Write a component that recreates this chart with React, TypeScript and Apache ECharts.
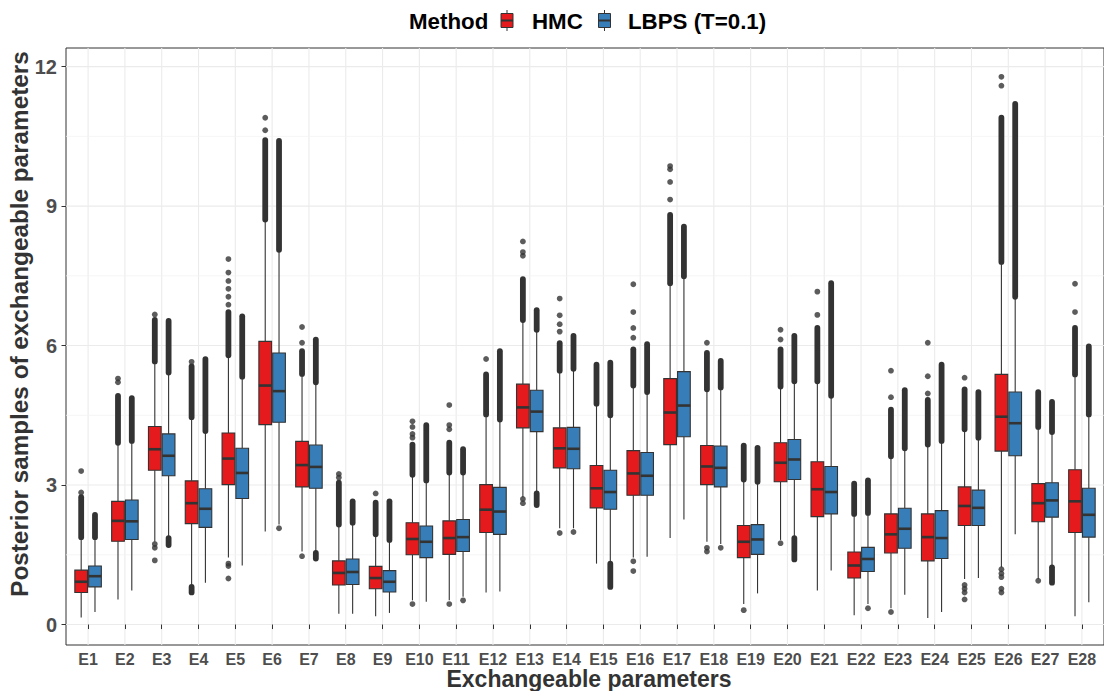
import React, { useEffect, useRef } from "react";
import * as echarts from "echarts";

const categories = ["E1","E2","E3","E4","E5","E6","E7","E8","E9","E10","E11","E12","E13","E14","E15","E16","E17","E18","E19","E20","E21","E22","E23","E24","E25","E26","E27","E28"];
const methods = ["HMC", "LBPS (T=0.1)"];
const yTicks = [0, 3, 6, 9, 12];
const yMinorTicks = [1.5, 4.5, 7.5, 10.5];

// HMC box statistics
const hmcLow = [0.15,0.54,1.78,0.81,1.44,2.00,1.57,0.23,0.18,0.52,0.52,0.69,2.74,2.07,1.31,1.44,1.86,1.78,0.44,1.82,0.73,0.20,0.35,0.14,0.98,1.23,0.98,0.18];
const hmcQ1 = [0.69,1.79,3.32,2.17,3.01,4.30,2.96,0.85,0.77,1.50,1.51,1.98,4.23,3.37,2.51,2.78,3.87,3.01,1.44,3.07,2.32,1.00,1.54,1.37,2.13,3.73,2.21,1.98];
const hmcMed = [0.92,2.23,3.77,2.61,3.57,5.14,3.43,1.11,1.00,1.84,1.86,2.47,4.67,3.79,2.93,3.25,4.56,3.40,1.78,3.48,2.91,1.27,1.94,1.88,2.55,4.47,2.61,2.65];
const hmcQ3 = [1.17,2.65,4.26,3.09,4.12,6.09,3.94,1.37,1.25,2.19,2.23,3.01,5.17,4.23,3.42,3.74,5.29,3.85,2.13,3.91,3.50,1.56,2.38,2.38,2.96,5.38,3.03,3.33];
const hmcHigh = [1.88,3.91,5.66,4.46,5.79,8.71,5.39,2.15,1.94,3.22,3.27,4.52,6.55,5.46,4.75,5.14,7.34,5.06,3.12,5.12,5.23,2.38,3.62,3.87,4.20,7.80,4.25,5.38];
// dense runs of outliers (from whisker end to these values)
const hmcDenseTop = [2.74,4.92,6.55,5.55,6.72,10.42,5.88,3.05,2.62,3.87,3.91,5.38,7.43,6.05,5.59,5.92,8.81,5.84,3.85,5.92,6.38,3.03,4.62,4.83,5.06,10.90,5.00,6.38];
const hmcDenseBottom: (number | null)[] = [null,null,null,0.69,null,null,null,null,null,null,null,null,null,null,null,null,null,null,null,null,null,null,null,null,null,null,null,null];
// isolated outliers
const hmcSparse: number[][] = [
  [2.84,3.30],[5.21,5.29],[6.67,1.73,1.65,1.38],[5.65],[6.88,7.05,7.22,7.39,7.57,7.86,1.31,1.26,0.99],
  [10.63,10.90],[6.06,6.40,1.47],[3.16,3.24],[2.82],[4.02,4.10,4.25,4.37,0.44],
  [4.20,4.29,4.72,0.44],[5.71],[7.93,8.01,8.24,2.70,2.61],[6.30,6.46,6.65,7.01,1.97],[],
  [6.17,6.38,6.72,7.32,1.36,1.15],[9.14,9.52,9.79,9.86],[6.06,1.65,1.57],[0.31],[6.13,6.34,1.75],
  [6.66,7.16],[],[4.89,5.46,0.27],[4.97,5.34,6.06],[5.31,0.85,0.77,0.69,0.54],
  [11.59,11.78,1.19,1.10,1.02,0.77,0.69],[0.94],[6.72,7.33]
];

// LBPS box statistics
const lbpsLow = [0.27,0.73,1.86,0.90,1.27,2.15,1.54,0.23,0.25,0.49,0.60,0.71,2.82,2.07,1.31,1.46,2.26,1.73,0.67,1.86,1.16,0.44,0.64,0.27,1.00,1.94,1.23,0.48];
const lbpsQ1 = [0.81,1.83,3.20,2.09,2.71,4.35,2.93,0.86,0.70,1.44,1.57,1.94,4.15,3.35,2.48,2.78,4.04,2.96,1.51,3.12,2.38,1.14,1.64,1.42,2.13,3.63,2.31,1.88];
const lbpsMed = [1.04,2.22,3.63,2.49,3.26,5.02,3.39,1.13,0.92,1.78,1.88,2.43,4.58,3.78,2.85,3.20,4.71,3.37,1.83,3.55,2.85,1.41,2.06,1.86,2.51,4.33,2.67,2.36];
const lbpsQ3 = [1.26,2.68,4.10,2.92,3.79,5.84,3.86,1.41,1.16,2.12,2.26,2.95,5.04,4.24,3.32,3.70,5.44,3.84,2.15,3.98,3.40,1.66,2.50,2.45,2.89,5.00,3.05,2.93];
const lbpsHigh = [1.88,3.95,5.42,4.16,5.33,8.06,5.21,2.19,1.82,3.10,3.27,4.41,6.34,5.50,4.50,5.00,7.49,5.10,3.07,5.23,4.92,2.40,3.79,3.95,4.02,7.05,4.14,4.52];
const lbpsDenseTop = [2.36,4.87,6.53,5.71,6.63,10.40,6.13,2.65,2.65,4.29,3.77,5.88,6.76,6.21,5.63,6.03,8.56,5.67,3.80,6.21,7.34,3.10,5.04,5.59,5.00,11.20,4.79,5.98];
const lbpsDenseBottom: (number | null)[] = [null,null,1.71,null,null,null,1.42,null,null,null,null,null,2.57,null,0.81,null,null,null,null,1.40,null,null,null,null,null,null,0.90,null];
const lbpsSparse: number[][] = [
  [],[],[],[],[],[2.07],[],[],[],[],[0.52],[],[],[1.99],[],[],[],[1.65],[],[],[],[0.35],[],[],[],[],[],[]
];

const FONT = "'Liberation Sans', Arial, Helvetica, sans-serif";
const RED = "#E41A1C";
const BLUE = "#377EB8";
const DARK = "#333333";
const OFFSET = 0.1875;
const BOX_W = 0.345;

function boxData(low: number[], q1: number[], med: number[], q3: number[], high: number[]) {
  return categories.map((_, i) => [i + 1, low[i], q1[i], med[i], q3[i], high[i]]);
}
function denseData(high: number[], top: number[], low: number[], bottom: (number | null)[]) {
  const out: number[][] = [];
  categories.forEach((_, i) => {
    out.push([i + 1, high[i], top[i]]);
    if (bottom[i] != null) out.push([i + 1, bottom[i] as number, low[i]]);
  });
  return out;
}
function sparseData(sp: number[][], off: number) {
  const out: number[][] = [];
  sp.forEach((arr, i) => arr.forEach((v) => out.push([i + 1 + off, v])));
  return out;
}

function boxRender(off: number, fill: string) {
  return (params: any, api: any) => {
    const x = api.value(0) + off;
    const cx = api.coord([x, 0])[0];
    const yLow = api.coord([x, api.value(1)])[1];
    const yQ1 = api.coord([x, api.value(2)])[1];
    const yMed = api.coord([x, api.value(3)])[1];
    const yQ3 = api.coord([x, api.value(4)])[1];
    const yHigh = api.coord([x, api.value(5)])[1];
    const hw = api.size([BOX_W, 0])[0] / 2;
    const ls = { stroke: DARK, lineWidth: 1.1 };
    return {
      type: "group",
      children: [
        { type: "line", shape: { x1: cx, y1: yHigh, x2: cx, y2: yQ3 }, style: ls },
        { type: "line", shape: { x1: cx, y1: yQ1, x2: cx, y2: yLow }, style: ls },
        { type: "rect", shape: { x: cx - hw, y: yQ3, width: 2 * hw, height: yQ1 - yQ3 }, style: { fill, stroke: DARK, lineWidth: 1.1 } },
        { type: "line", shape: { x1: cx - hw, y1: yMed, x2: cx + hw, y2: yMed }, style: { stroke: DARK, lineWidth: 2.6 } },
      ],
    };
  };
}
function denseRender(off: number) {
  return (params: any, api: any) => {
    const x = api.value(0) + off;
    const p1 = api.coord([x, api.value(1)]);
    const p2 = api.coord([x, api.value(2)]);
    return {
      type: "line",
      shape: { x1: p1[0], y1: p1[1], x2: p2[0], y2: p2[1] },
      style: { stroke: DARK, lineWidth: 5.8, lineCap: "round" },
    };
  };
}

export default function App() {
  const ref = useRef<HTMLDivElement>(null);
  useEffect(() => {
    if (!ref.current) return;
    const chart = echarts.init(ref.current, undefined, { renderer: "svg" });
    const catIdx = categories.map((_, i) => i + 1);
    const legendKey = (x: number, fill: string) => ({
      type: "group",
      children: [
        { type: "line", shape: { x1: x + 6, y1: 10, x2: x + 6, y2: 31 }, style: { stroke: DARK, lineWidth: 1 } },
        { type: "rect", shape: { x, y: 13.5, width: 12, height: 14 }, style: { fill, stroke: DARK, lineWidth: 1 } },
        { type: "line", shape: { x1: x, y1: 20.5, x2: x + 12, y2: 20.5 }, style: { stroke: DARK, lineWidth: 2 } },
      ],
    });
    const txt = (x: number, text: string) => ({
      type: "text",
      x,
      y: 21,
      style: { text, fontSize: 22.3, fontWeight: "bold", fontFamily: FONT, fill: "#000", align: "left", verticalAlign: "middle" },
    });
    chart.setOption({
      animation: false,
      backgroundColor: "#ffffff",
      grid: { left: 66, right: -8, top: 48, bottom: 46, show: true, borderColor: DARK, borderWidth: 1, backgroundColor: "transparent" },
      xAxis: {
        type: "value",
        min: 0.4,
        max: 28.6,
        axisLine: { show: false },
        splitLine: { show: false },
        axisTick: { show: true, customValues: catIdx, length: 4.5, lineStyle: { color: DARK, width: 1 } },
        axisLabel: {
          customValues: catIdx,
          formatter: (v: number) => categories[Math.round(v) - 1],
          fontSize: 16,
          fontWeight: "bold",
          fontFamily: FONT,
          color: "#4D4D4D",
          margin: 6,
        },
      },
      yAxis: {
        type: "value",
        min: -0.44,
        max: 12.4,
        axisLine: { show: false },
        splitLine: { show: false },
        axisTick: { show: true, customValues: yTicks, length: 4.5, lineStyle: { color: DARK, width: 1 } },
        axisLabel: {
          customValues: yTicks,
          fontSize: 20,
          fontWeight: "bold",
          fontFamily: FONT,
          color: "#4D4D4D",
          margin: 9,
        },
      },
      graphic: [
        txt(409, "Method"),
        legendKey(501, RED),
        txt(532, methods[0]),
        legendKey(598.5, BLUE),
        txt(628, methods[1]),
        {
          type: "text",
          x: 589,
          y: 679,
          style: { text: "Exchangeable parameters", fontSize: 23, fontWeight: "bold", fontFamily: FONT, fill: DARK, align: "center", verticalAlign: "middle" },
        },
        {
          type: "text",
          x: 19,
          y: 324,
          rotation: Math.PI / 2,
          style: { text: "Posterior samples of exchangeable parameters", fontSize: 24.3, fontWeight: "bold", fontFamily: FONT, fill: DARK, align: "center", verticalAlign: "middle" },
        },
      ],
      series: [
        {
          type: "custom",
          name: "vgrid",
          silent: true,
          z: 0,
          data: catIdx.map((i) => [i, 0]),
          encode: { x: 0, y: 1 },
          renderItem: (params: any, api: any) => {
            const cs = params.coordSys;
            const x = api.coord([api.value(0), 0])[0];
            return { type: "line", shape: { x1: x, y1: cs.y, x2: x, y2: cs.y + cs.height }, style: { stroke: "#EBEBEB", lineWidth: 1.1 } };
          },
        },
        {
          type: "custom",
          name: "hgrid",
          silent: true,
          z: 0,
          data: [...yTicks.map((v) => [1, v, 1]), ...yMinorTicks.map((v) => [1, v, 0])],
          encode: { x: 0, y: 1 },
          renderItem: (params: any, api: any) => {
            const cs = params.coordSys;
            const y = api.coord([1, api.value(1)])[1];
            const major = api.value(2) === 1;
            return { type: "line", shape: { x1: cs.x, y1: y, x2: cs.x + cs.width, y2: y }, style: { stroke: major ? "#EBEBEB" : "#F3F3F3", lineWidth: major ? 1.1 : 0.8 } };
          },
        },
        {
          type: "custom",
          name: methods[0] + " outliers",
          silent: true,
          z: 2,
          data: denseData(hmcHigh, hmcDenseTop, hmcLow, hmcDenseBottom),
          encode: { x: 0, y: [1, 2] },
          renderItem: denseRender(-OFFSET),
        },
        {
          type: "custom",
          name: methods[1] + " outliers",
          silent: true,
          z: 2,
          data: denseData(lbpsHigh, lbpsDenseTop, lbpsLow, lbpsDenseBottom),
          encode: { x: 0, y: [1, 2] },
          renderItem: denseRender(OFFSET),
        },
        {
          type: "scatter",
          name: methods[0] + " points",
          silent: true,
          z: 2,
          symbol: "circle",
          symbolSize: 5.8,
          itemStyle: { color: DARK },
          data: sparseData(hmcSparse, -OFFSET),
        },
        {
          type: "scatter",
          name: methods[1] + " points",
          silent: true,
          z: 2,
          symbol: "circle",
          symbolSize: 5.8,
          itemStyle: { color: DARK },
          data: sparseData(lbpsSparse, OFFSET),
        },
        {
          type: "custom",
          name: methods[0],
          silent: true,
          z: 3,
          data: boxData(hmcLow, hmcQ1, hmcMed, hmcQ3, hmcHigh),
          encode: { x: 0, y: [1, 2, 3, 4, 5] },
          renderItem: boxRender(-OFFSET, RED),
        },
        {
          type: "custom",
          name: methods[1],
          silent: true,
          z: 3,
          data: boxData(lbpsLow, lbpsQ1, lbpsMed, lbpsQ3, lbpsHigh),
          encode: { x: 0, y: [1, 2, 3, 4, 5] },
          renderItem: boxRender(OFFSET, BLUE),
        },
      ],
    });
    return () => chart.dispose();
  }, []);
  return <div ref={ref} style={{ position: "absolute", left: 0, top: 0, width: 1104, height: 691 }} />;
}
